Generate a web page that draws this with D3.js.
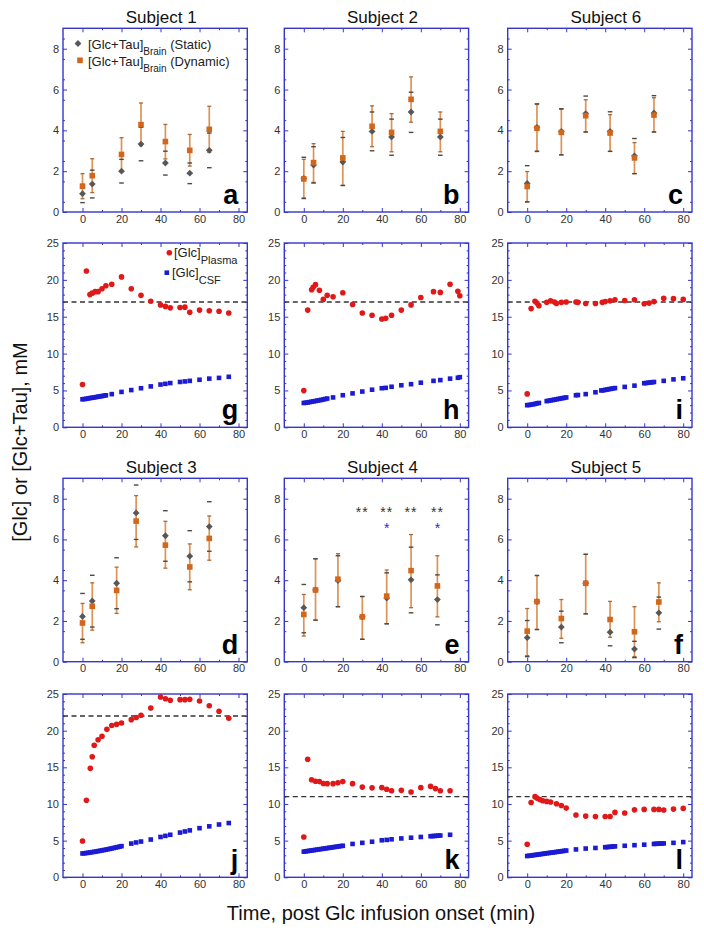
<!DOCTYPE html>
<html><head><meta charset="utf-8">
<script src="https://cdn.jsdelivr.net/npm/d3@7"></script>
<style>body{margin:0;background:#fff}</style>
</head><body><svg id="c" width="704" height="935"></svg>
<script>
// ---------- DATA ----------
// brain rows: [time, static, staticLo, staticHi, dynamic, dynamicLo, dynamicHi]
const brain1 = [[0,0.90,0.46,1.35,1.26,0.65,1.88],[5,1.37,0.69,2.05,1.78,0.95,2.61],[20,2.00,1.42,2.58,2.82,2.00,3.64],[30,3.33,2.51,4.15,4.28,3.25,5.34],[42.5,2.40,1.81,2.98,3.45,2.60,4.29],[55,1.90,1.39,2.40,3.02,2.25,3.80],[65,3.02,2.17,3.87,4.05,2.92,5.18]];
const brain2 = [[0,1.65,0.66,2.68,1.62,0.69,2.58],[5,2.30,1.42,3.20,2.42,1.45,3.35],[20,2.45,1.30,3.65,2.65,1.30,3.95],[35,3.95,3.00,4.90,4.20,3.20,5.20],[45,3.68,2.78,4.55,3.90,2.95,4.82],[55,4.90,3.90,5.87,5.52,4.40,6.62],[70,3.68,2.78,4.55,3.95,2.95,4.90]];
const brain6 = [[0,1.40,0.50,2.27,1.25,0.49,1.98],[5,4.15,2.98,5.30,4.10,2.96,5.27],[17.5,3.95,2.80,5.06,3.90,2.80,5.03],[30,4.82,3.92,5.68,4.72,3.92,5.50],[42.5,3.95,2.97,4.91,3.87,2.97,4.77],[55,2.75,1.88,3.60,2.65,1.88,3.40],[65,4.85,3.92,5.70,4.75,3.92,5.60]];
const brain3 = [[0,2.22,1.10,3.35,1.90,0.93,2.86],[5,2.98,1.70,4.24,2.72,1.55,3.87],[17.5,3.85,2.60,5.10,3.50,2.37,4.64],[27.5,7.30,6.00,8.67,6.90,5.63,8.15],[42.5,6.18,4.93,7.41,5.72,4.59,6.89],[55,5.18,3.92,6.43,4.65,3.53,5.78],[65,6.63,5.42,7.85,6.05,4.98,7.15]];
const brain4 = [[0,2.65,1.42,3.79,2.32,1.26,3.30],[6,3.52,2.04,5.05,3.52,2.04,5.05],[17.5,3.98,2.70,5.20,4.05,2.70,5.30],[30,2.20,1.10,3.20,2.20,1.10,3.20],[42.5,3.12,1.86,4.36,3.22,1.86,4.50],[55,4.02,2.40,5.62,4.47,2.65,6.24],[68.5,3.05,1.81,4.26,3.72,2.20,5.20]];
const brain5 = [[0,1.18,0.25,2.02,1.50,0.30,2.61],[5,2.95,1.58,4.23,2.95,1.58,4.23],[17.5,1.70,0.93,2.48,2.12,1.15,3.05],[30,3.85,2.35,5.27,3.85,2.35,5.27],[42.5,1.45,0.78,2.10,2.07,1.20,2.96],[55,0.62,0.20,1.00,1.47,0.25,2.70],[67.5,2.40,1.60,3.17,2.93,1.96,3.87]];

// significance marks (subject 4): [time, value]
const starsBlack = [[30,7.5],[42.5,7.5],[55,7.5],[68.5,7.5]];
const starsBlue = [[42.5,6.7],[68.5,6.7]];

// plasma glucose [time, mM]
const plasma1 = [[0,5.8],[2,21.2],[3.8,18.0],[5,18.2],[6.5,18.4],[8,18.4],[10,18.8],[12,19.2],[15,19.4],[20,20.4],[25,18.8],[30,17.9],[35,17.1],[40,16.6],[42.5,16.4],[45,16.2],[50,16.25],[52.5,16.3],[55,15.6],[60,15.9],[65,15.8],[70,15.75],[75,15.5]];
const plasma2 = [[0,4.98],[2,15.9],[4,18.65],[4.8,19.0],[6,19.35],[8,18.6],[10,17.35],[12,17.9],[15,17.7],[20,18.25],[25,16.65],[30,15.5],[35,15.2],[40,14.7],[42,14.8],[45,15.2],[50,15.9],[55,16.6],[60,17.6],[66.5,18.4],[70,18.3],[75,19.4],[79,18.45],[80,17.85]];
const plasma6 = [[0,4.53],[2,16.1],[4,17.1],[5,16.85],[6,16.5],[10,16.95],[12,17.15],[14,17.0],[15,16.8],[17.5,16.95],[20,17.0],[25,17.0],[26,16.95],[30,16.8],[35,16.8],[38.5,16.95],[40,17.05],[42.5,17.15],[45,17.3],[50,17.2],[55,17.3],[60,16.75],[62.5,16.85],[65,17.05],[70,17.5],[75,17.45],[80,17.35]];
const plasma3 = [[0,4.95],[2,10.5],[4,14.86],[5,16.45],[6,18.0],[8,18.77],[10,19.23],[12.5,20.18],[15,20.7],[17.5,20.86],[20,21.05],[25,21.5],[27.5,21.8],[30,22.1],[35,23.1],[40,24.6],[42.5,24.36],[45,24.14],[50,24.23],[52.5,24.23],[55,24.27],[60,24.05],[65,23.4],[70,22.64],[75,21.7]];
const plasma4 = [[0,5.5],[2,16.1],[4,13.3],[6,13.1],[8,13.05],[10,12.8],[12,12.77],[15,12.77],[17.5,12.9],[20,13.05],[25,12.77],[30,12.3],[35,12.2],[40,12.23],[42.5,12.0],[45,11.8],[50,11.86],[55,11.64],[60,12.23],[65,12.4],[67.5,12.1],[70,11.8],[75,11.8]];
const plasma5 = [[0,4.5],[2,10.2],[4,11.0],[5,10.8],[6.5,10.6],[8,10.45],[10,10.35],[12,10.26],[15,10.04],[17.5,9.8],[20,9.44],[25,8.5],[30,8.35],[35,8.3],[40,8.3],[42.5,8.3],[45,8.85],[50,8.76],[55,9.2],[60,9.26],[65,9.26],[67.5,9.26],[70,9.17],[75,9.3],[80,9.4]];

// CSF glucose [time, mM]
const csf1 = [[0,3.80],[1,3.83],[2,3.87],[3,3.92],[4,3.97],[5,4.01],[6,4.05],[7,4.10],[8,4.15],[9,4.19],[10,4.24],[11,4.29],[12,4.34],[15,4.50],[20,4.80],[25,5.05],[30,5.30],[35,5.55],[40,5.80],[42.5,5.90],[45,6.00],[50,6.15],[52.5,6.22],[55,6.30],[60,6.45],[65,6.60],[70,6.70],[75,6.85]];
const csf2 = [[0,3.30],[1,3.33],[2,3.37],[3,3.42],[4,3.47],[5,3.52],[6,3.57],[7,3.62],[8,3.67],[9,3.72],[10,3.78],[11,3.84],[12,3.90],[15,4.05],[20,4.35],[25,4.60],[30,4.85],[35,5.10],[40,5.30],[42,5.35],[45,5.50],[50,5.70],[55,5.85],[60,6.05],[66.5,6.30],[70,6.40],[75,6.60],[79,6.72],[80,6.80]];
const csf6 = [[0,3.00],[1,3.03],[2,3.08],[3,3.12],[4,3.18],[5,3.25],[6,3.30],[10,3.55],[11,3.60],[12,3.65],[13,3.70],[14,3.75],[15,3.80],[16,3.85],[17,3.90],[18,3.95],[19,4.00],[20,4.05],[25,4.35],[26,4.38],[30,4.50],[35,4.75],[38,5.00],[39,5.02],[40,5.08],[41,5.12],[42,5.18],[43,5.22],[44,5.28],[45,5.32],[50,5.48],[55,5.65],[60,5.98],[61,6.00],[62,6.05],[63,6.08],[64,6.10],[65,6.15],[70,6.30],[75,6.50],[80,6.65]];
const csf3 = [[0,3.25],[1,3.28],[2,3.31],[3,3.35],[4,3.39],[5,3.43],[6,3.48],[7,3.52],[8,3.57],[9,3.62],[10,3.67],[11,3.72],[12,3.77],[13,3.83],[14,3.88],[15,3.94],[16,4.00],[17,4.06],[18,4.12],[19,4.18],[20,4.25],[25,4.60],[27.5,4.75],[30,4.88],[35,5.15],[40,5.50],[42.5,5.65],[45,5.80],[50,6.10],[52.5,6.25],[55,6.40],[60,6.70],[65,6.95],[70,7.20],[75,7.40]];
const csf4 = [[0,3.50],[1,3.54],[2,3.58],[3,3.62],[4,3.66],[5,3.70],[6,3.74],[7,3.78],[8,3.82],[9,3.86],[10,3.90],[11,3.94],[12,3.98],[13,4.02],[14,4.06],[15,4.10],[16,4.14],[17,4.18],[18,4.22],[19,4.26],[20,4.30],[25,4.55],[30,4.70],[35,4.85],[40,5.05],[42.5,5.10],[45,5.18],[50,5.30],[55,5.40],[60,5.50],[65,5.60],[66,5.62],[67,5.64],[68,5.66],[69,5.68],[70,5.70],[75,5.80]];
const csf5 = [[0,2.90],[1,2.94],[2,2.97],[3,3.01],[4,3.05],[5,3.08],[6,3.12],[7,3.16],[8,3.20],[9,3.24],[10,3.28],[11,3.31],[12,3.35],[13,3.38],[14,3.42],[15,3.46],[16,3.50],[17,3.54],[18,3.57],[19,3.61],[20,3.65],[25,3.80],[30,3.92],[35,4.00],[40,4.10],[41,4.12],[42,4.15],[43,4.17],[44,4.20],[45,4.22],[50,4.30],[55,4.38],[60,4.45],[65,4.55],[66,4.57],[67,4.58],[68,4.60],[69,4.61],[70,4.62],[75,4.70],[80,4.80]];

// target plasma levels (dashed lines)
const targetLevels = [17, 17, 17, 22, 11, 11];

// tick labels
const xTickVals = [0, 20, 40, 60, 80];
const xMinorVals = [10, 30, 50, 70];
const brainTickVals = [0, 2, 4, 6, 8];
const glcTickVals = [0, 5, 10, 15, 20, 25];

const titles = ["Subject 1", "Subject 2", "Subject 6", "Subject 3", "Subject 4", "Subject 5"];
const letters = ["a","b","c","g","h","i","d","e","f","j","k","l"];

// ---------- DRAW ----------
const svg = d3.select("#c");
const FONT = "'Liberation Sans', Arial, Helvetica, sans-serif";
const BLUE = "#3636cc";
const colX = [63, 284.3, 507.7], PW = 184.3;
const rowY = [[28.3,212],[243,427.3],[478.3,661.7],[694,877.3]];

function styleAxis(sel){
  sel.select(".domain").remove();
  sel.selectAll(".tick line").attr("stroke", BLUE).attr("stroke-width", 1);
  sel.selectAll(".tick text").attr("fill", "#333").style("font-family", FONT).style("font-size", "11px");
}

function makePanel(c, r, yMax, yMajor, yMinor){
  const x0 = colX[c], x1 = x0 + PW, y0 = rowY[r][0], y1 = rowY[r][1];
  const x = d3.scaleLinear().domain([-10, 84.5]).range([x0, x1]);
  const y = d3.scaleLinear().domain([0, yMax]).range([y1, y0]);
  const g = svg.append("g");
  const ax = g.append("g");
  ax.append("g").attr("transform",`translate(0,${y1})`).call(d3.axisBottom(x).tickValues(xTickVals).tickSize(-4).tickPadding(3)).call(styleAxis);
  ax.append("g").attr("transform",`translate(0,${y1})`).call(d3.axisBottom(x).tickValues(xMinorVals).tickSize(-2).tickFormat("")).call(styleAxis);
  ax.append("g").attr("transform",`translate(0,${y0})`).call(d3.axisTop(x).tickValues(xTickVals).tickSize(-4).tickFormat("")).call(styleAxis);
  ax.append("g").attr("transform",`translate(0,${y0})`).call(d3.axisTop(x).tickValues(xMinorVals).tickSize(-2).tickFormat("")).call(styleAxis);
  ax.append("g").attr("transform",`translate(${x0},0)`).call(d3.axisLeft(y).tickValues(yMajor).tickSize(-4).tickPadding(4)).call(styleAxis);
  ax.append("g").attr("transform",`translate(${x0},0)`).call(d3.axisLeft(y).tickValues(yMinor).tickSize(-2).tickFormat("")).call(styleAxis);
  ax.append("g").attr("transform",`translate(${x1},0)`).call(d3.axisRight(y).tickValues(yMajor).tickSize(-4).tickFormat("")).call(styleAxis);
  ax.append("g").attr("transform",`translate(${x1},0)`).call(d3.axisRight(y).tickValues(yMinor).tickSize(-2).tickFormat("")).call(styleAxis);
  g.append("rect").attr("x", x0).attr("y", y0).attr("width", PW).attr("height", y1 - y0)
    .attr("fill", "none").attr("stroke", BLUE).attr("stroke-width", 1.4);
  return {g, x, y, x0, x1, y0, y1};
}

function addLetter(p, t){
  p.g.append("text").attr("x", p.x1 - 9).attr("y", p.y1 - 8).attr("text-anchor","end")
    .style("font-family", FONT).style("font-weight","bold").style("font-size","27px").attr("fill","#000").text(t);
}

function brainPanel(c, r, data, title, letter){
  const p = makePanel(c, r, 9, brainTickVals, d3.range(0.5, 9, 1));
  const g = p.g, x = p.x, y = p.y;
  svg.append("text").attr("x", (p.x0 + p.x1)/2 + 6).attr("y", p.y0 - 5.5).attr("text-anchor","middle")
    .style("font-family", FONT).style("font-size","17px").attr("fill","#111").text(title);
  g.append("g").selectAll("line").data(data).join("line")
    .attr("x1", d=>x(d[0])).attr("x2", d=>x(d[0])).attr("y1", d=>y(d[5])).attr("y2", d=>y(d[6]))
    .attr("stroke","#dd9356").attr("stroke-width",1.7);
  const capsD = data.flatMap(d=>[[d[0],d[5]],[d[0],d[6]]]);
  g.append("g").selectAll("line").data(capsD).join("line")
    .attr("x1", d=>x(d[0])-2).attr("x2", d=>x(d[0])+2).attr("y1", d=>y(d[1])).attr("y2", d=>y(d[1]))
    .attr("stroke","#a86a3a").attr("stroke-width",1.3);
  const capsS = data.flatMap(d=>[[d[0],d[2]],[d[0],d[3]]]);
  g.append("g").selectAll("line").data(capsS).join("line")
    .attr("x1", d=>x(d[0])-2.3).attr("x2", d=>x(d[0])+2.3).attr("y1", d=>y(d[1])).attr("y2", d=>y(d[1]))
    .attr("stroke","#4a4a4a").attr("stroke-width",1.4);
  g.append("g").selectAll("path").data(data).join("path")
    .attr("transform", d=>`translate(${x(d[0])},${y(d[1])})`)
    .attr("d","M0,-3.4L3.4,0L0,3.4L-3.4,0Z").attr("fill","#575757");
  g.append("g").selectAll("rect").data(data).join("rect")
    .attr("x", d=>x(d[0])-2.8).attr("y", d=>y(d[4])-2.8).attr("width",5.6).attr("height",5.6)
    .attr("fill","#d2661a");
  addLetter(p, letter);
  return p;
}

function glcPanel(c, r, plasma, csf, level, letter){
  const p = makePanel(c, r, 25, glcTickVals, d3.range(1, 25, 1).filter(v => v % 5 !== 0));
  const g = p.g, x = p.x, y = p.y;
  g.append("line").attr("x1", p.x0).attr("x2", p.x1).attr("y1", y(level)).attr("y2", y(level))
    .attr("stroke","#333").attr("stroke-width",1.3).attr("stroke-dasharray","5,3.5");
  g.append("g").selectAll("rect").data(csf).join("rect")
    .attr("x", d=>x(d[0])-2.3).attr("y", d=>y(d[1])-2.3).attr("width",4.6).attr("height",4.6)
    .attr("fill","#1b1bd4");
  g.append("g").selectAll("circle").data(plasma).join("circle")
    .attr("cx", d=>x(d[0])).attr("cy", d=>y(d[1])).attr("r",2.8).attr("fill","#e01818");
  addLetter(p, letter);
  return p;
}

brainPanel(0, 0, brain1, titles[0], letters[0]);
brainPanel(1, 0, brain2, titles[1], letters[1]);
brainPanel(2, 0, brain6, titles[2], letters[2]);
glcPanel(0, 1, plasma1, csf1, targetLevels[0], letters[3]);
glcPanel(1, 1, plasma2, csf2, targetLevels[1], letters[4]);
glcPanel(2, 1, plasma6, csf6, targetLevels[2], letters[5]);
brainPanel(0, 2, brain3, titles[3], letters[6]);
const pe = brainPanel(1, 2, brain4, titles[4], letters[7]);
brainPanel(2, 2, brain5, titles[5], letters[8]);
glcPanel(0, 3, plasma3, csf3, targetLevels[3], letters[9]);
glcPanel(1, 3, plasma4, csf4, targetLevels[4], letters[10]);
glcPanel(2, 3, plasma5, csf5, targetLevels[5], letters[11]);

// asterisks in subject 4
pe.g.append("g").selectAll("text").data(starsBlack).join("text")
  .attr("x", d=>pe.x(d[0])).attr("y", d=>pe.y(d[1]) + 8).attr("text-anchor","middle")
  .style("font-family", FONT).style("font-size","14px").style("letter-spacing","1px").attr("fill","#333").text("**");
pe.g.append("g").selectAll("text").data(starsBlue).join("text")
  .attr("x", d=>pe.x(d[0])).attr("y", d=>pe.y(d[1]) + 8).attr("text-anchor","middle")
  .style("font-family", FONT).style("font-size","14px").attr("fill","#2a2ae0").text("*");

// legend panel a
const lg1 = svg.append("g").style("font-family", FONT).attr("fill","#222");
lg1.append("path").attr("transform","translate(78,43.5)").attr("d","M0,-3.4L3.4,0L0,3.4L-3.4,0Z").attr("fill","#575757");
lg1.append("rect").attr("x",77.2).attr("y",57.5).attr("width",5.6).attr("height",5.6).attr("fill","#d2661a");
function legendText(sel, xx, yy, main, sub, tail, fs, sfs, dy){
  const t = sel.append("text").attr("x", xx).attr("y", yy).style("font-size", fs+"px");
  t.append("tspan").text(main);
  t.append("tspan").attr("dy", dy).style("font-size", sfs+"px").text(sub);
  if (tail) t.append("tspan").attr("dy", -dy).text(tail);
}
legendText(lg1, 88, 48.5, "[Glc+Tau]", "Brain", " (Static)", 13, 10, 6);
legendText(lg1, 88, 65.5, "[Glc+Tau]", "Brain", " (Dynamic)", 13, 10, 6);

// legend panel g
const lg2 = svg.append("g").style("font-family", FONT).attr("fill","#222");
lg2.append("circle").attr("cx",169.3).attr("cy",252.7).attr("r",2.8).attr("fill","#e01818");
lg2.append("rect").attr("x",164.5).attr("y",270.4).attr("width",4.6).attr("height",4.6).attr("fill","#1b1bd4");
legendText(lg2, 174, 257, "[Glc]", "Plasma", null, 13, 11, 7);
legendText(lg2, 172, 276.5, "[Glc]", "CSF", null, 13, 11, 7);

// axis titles
svg.append("text").attr("transform","translate(27,442) rotate(-90)").attr("text-anchor","middle")
  .style("font-family", FONT).style("font-size","20px").attr("fill","#111").text("[Glc] or [Glc+Tau], mM");
svg.append("text").attr("x", 381).attr("y", 920).attr("text-anchor","middle")
  .style("font-family", FONT).style("font-size","20px").attr("fill","#111").text("Time, post Glc infusion onset (min)");
</script></body></html>
